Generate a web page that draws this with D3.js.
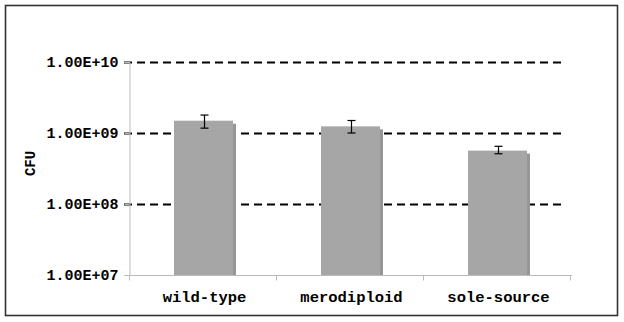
<!DOCTYPE html>
<html><head><meta charset="utf-8">
<script src="https://cdn.jsdelivr.net/npm/d3@7"></script>
<style>body{margin:0;background:#fff}svg{display:block}</style>
</head><body>
<script>
const categories = ["wild-type", "merodiploid", "sole-source"];
const values = [1.49e9, 1.24e9, 5.65e8];
const errLow = [1.17e9, 1.0e9, 5.1e8];
const errHigh = [1.79e9, 1.50e9, 6.5e8];
const yTicks = [1e7, 1e8, 1e9, 1e10];
const yTickLabels = ["1.00E+07", "1.00E+08", "1.00E+09", "1.00E+10"];
const yTitle = "CFU";

(function () {
const W = 624, H = 322;
const svg = d3.select("body").append("svg").attr("width", W).attr("height", H);
svg.append("rect").attr("x", 5.5).attr("y", 5.5).attr("width", 612).attr("height", 310)
  .attr("fill", "#fff").attr("stroke", "#333").attr("stroke-width", 1.6);

const pLeft = 129, pRight = 570, pTop = 62, pBottom = 275;
const x = d3.scaleBand().domain(categories).range([pLeft, pRight]).padding(0);
const y = d3.scaleLog().domain([1e7, 1e10]).range([pBottom, pTop]);
const font = "'Liberation Mono','Courier New',monospace";

// gridlines
svg.append("g").selectAll("line").data(yTicks.filter(t => t > 1e7)).join("line")
  .attr("x1", 124).attr("x2", 566)
  .attr("y1", d => Math.round(y(d)) + 0.5).attr("y2", d => Math.round(y(d)) + 0.5)
  .attr("stroke", "#000").attr("stroke-width", 2.2).attr("stroke-dasharray", "8,5");

// y axis
const yAxis = d3.axisLeft(y).tickValues(yTicks).tickFormat((d, i) => yTickLabels[i]).tickSize(5).tickPadding(6);
const gy = svg.append("g").attr("transform", `translate(${pLeft + 0.5},0)`).call(yAxis);
gy.select(".domain").attr("stroke", "#bbb");
gy.selectAll(".tick line").attr("stroke", "#bbb");
gy.selectAll("text").attr("font-family", font).attr("font-weight", "bold").attr("font-size", 15).attr("fill", "#000");

// x axis
const gx = svg.append("g").attr("transform", `translate(0,${pBottom + 0.5})`);
gx.append("line").attr("x1", pLeft - 5).attr("x2", pRight + 2).attr("stroke", "#bbb");
gx.selectAll(".tk").data([pLeft, ...categories.map(c => x(c) + x.bandwidth())]).join("line")
  .attr("x1", d => d + 0.5).attr("x2", d => d + 0.5).attr("y1", 0).attr("y2", 5).attr("stroke", "#bbb");
gx.selectAll("text").data(categories).join("text")
  .attr("x", d => x(d) + x.bandwidth() / 2 + 2).attr("y", 26)
  .attr("text-anchor", "middle").attr("font-family", font).attr("font-weight", "bold")
  .attr("font-size", 15.5).text(d => d);

// bars
const bw = 59;
const bars = svg.append("g");
categories.forEach((c, i) => {
  const cx = x(c) + x.bandwidth() / 2 + 1;
  bars.append("rect").attr("x", cx - bw / 2 + 3).attr("y", y(values[i]) + 3)
    .attr("width", bw).attr("height", pBottom - y(values[i]) - 3).attr("fill", "#969696");
  bars.append("rect").attr("x", cx - bw / 2).attr("y", y(values[i]))
    .attr("width", bw).attr("height", pBottom - y(values[i])).attr("fill", "#a6a6a6");
  const ex = Math.round(cx) + 0.5;
  const g = bars.append("g").attr("stroke", "#000").attr("stroke-width", 1.2);
  g.append("line").attr("x1", ex).attr("x2", ex).attr("y1", y(errHigh[i])).attr("y2", y(errLow[i]));
  g.append("line").attr("x1", ex - 4).attr("x2", ex + 4).attr("y1", y(errHigh[i])).attr("y2", y(errHigh[i]));
  g.append("line").attr("x1", ex - 4).attr("x2", ex + 4).attr("y1", y(errLow[i])).attr("y2", y(errLow[i]));
});

// y title
svg.append("text").attr("transform", `translate(35,${(pTop + pBottom) / 2 - 5}) rotate(-90)`)
  .attr("text-anchor", "middle").attr("font-family", font).attr("font-weight", "bold")
  .attr("font-size", 14).text(yTitle);
})();
</script>
</body></html>
